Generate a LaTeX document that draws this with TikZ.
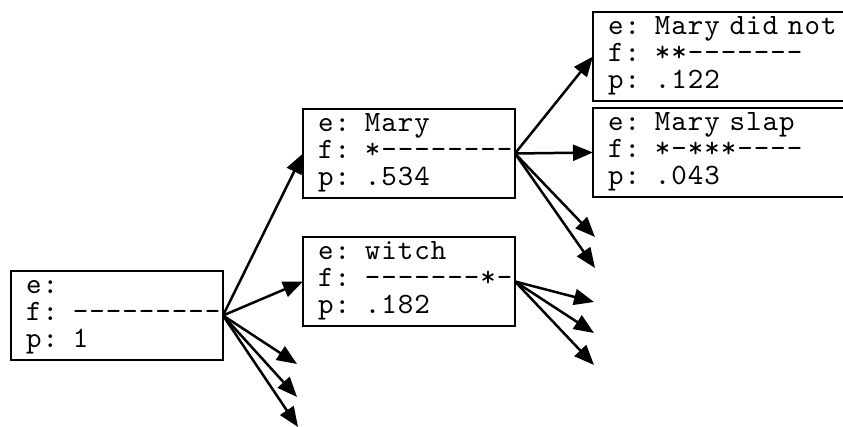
\documentclass[tikz,border=0pt]{standalone}
\usepackage{fontspec}
\usetikzlibrary{arrows.meta}

% typewriter face of the state boxes, slightly spaced out
\newfontfamily\hypmono{lmmono10-regular}[Extension=.otf, LetterSpace=3.5]

% strut that fixes every line of a hypothesis box to the same height
\newcommand{\boxstrut}{\rule[-7.5pt]{0pt}{24.5pt}}
\newcommand{\hypline}[1]{\mbox{\boxstrut#1}}
\newcommand{\hypfont}{\hypmono\fontsize{29.5}{24.5}\selectfont}

\tikzset{
  hyp/.style={draw, line width=2.5pt, rectangle, anchor=north west,
    outer sep=0pt, minimum height=89pt, inner xsep=15pt, inner ysep=0pt,
    align=left, text width=182pt, font=\hypfont},
  widehyp/.style={hyp, text width=300pt},
  expand/.style={line width=2.5pt, -{Triangle[length=20pt,width=16pt]}}
}

\begin{document}
\begin{tikzpicture}[x=1pt,y=-1pt]
  \useasboundingbox (0,0) rectangle (843,427);
  \fill[white] (0,0) rectangle (843,427);
  \clip (0,0) rectangle (843,427);

  % search states: English output, foreign coverage, probability
  \node[hyp] (root) at (11,271)
    {\hypline{e:}\\\hypline{f: -{}-{}-{}-{}-{}-{}-{}-{}-}\\\hypline{p: 1}};
  \node[hyp] (mary) at (303,109)
    {\hypline{e: Mary}\\\hypline{f: *-{}-{}-{}-{}-{}-{}-{}-}\\\hypline{p: .534}};
  \node[hyp] (witch) at (303,237)
    {\hypline{e: witch}\\\hypline{f: -{}-{}-{}-{}-{}-{}-{}*-}\\\hypline{p: .182}};
  \node[widehyp] (marydidnot) at (593,12)
    {\hypline{e: Mary did not}\\\hypline{f: **-{}-{}-{}-{}-{}-{}-}\\\hypline{p: .122}};
  \node[widehyp] (maryslap) at (593,108)
    {\hypline{e: Mary slap}\\\hypline{f: *-***-{}-{}-{}-}\\\hypline{p: .043}};

  % loose ends of further expansions
  \coordinate (r1) at (297,364);
  \coordinate (r2) at (297,397);
  \coordinate (r3) at (298,427);
  \coordinate (m1) at (595,237);
  \coordinate (m2) at (595,268);
  \coordinate (w1) at (594,302);
  \coordinate (w2) at (594,333);
  \coordinate (w3) at (594,365);

  % expansions
  \draw[expand] (root.east) -- (mary.west);
  \draw[expand] (root.east) -- (witch.west);
  \draw[expand] (root.east) -- (r1);
  \draw[expand] (root.east) -- (r2);
  \draw[expand] (root.east) -- (r3);

  \draw[expand] (mary.east) -- (marydidnot.west);
  \draw[expand] (mary.east) -- (maryslap.west);
  \draw[expand] (mary.east) -- (m1);
  \draw[expand] (mary.east) -- (m2);

  \draw[expand] (witch.east) -- (w1);
  \draw[expand] (witch.east) -- (w2);
  \draw[expand] (witch.east) -- (w3);
\end{tikzpicture}
\end{document}
